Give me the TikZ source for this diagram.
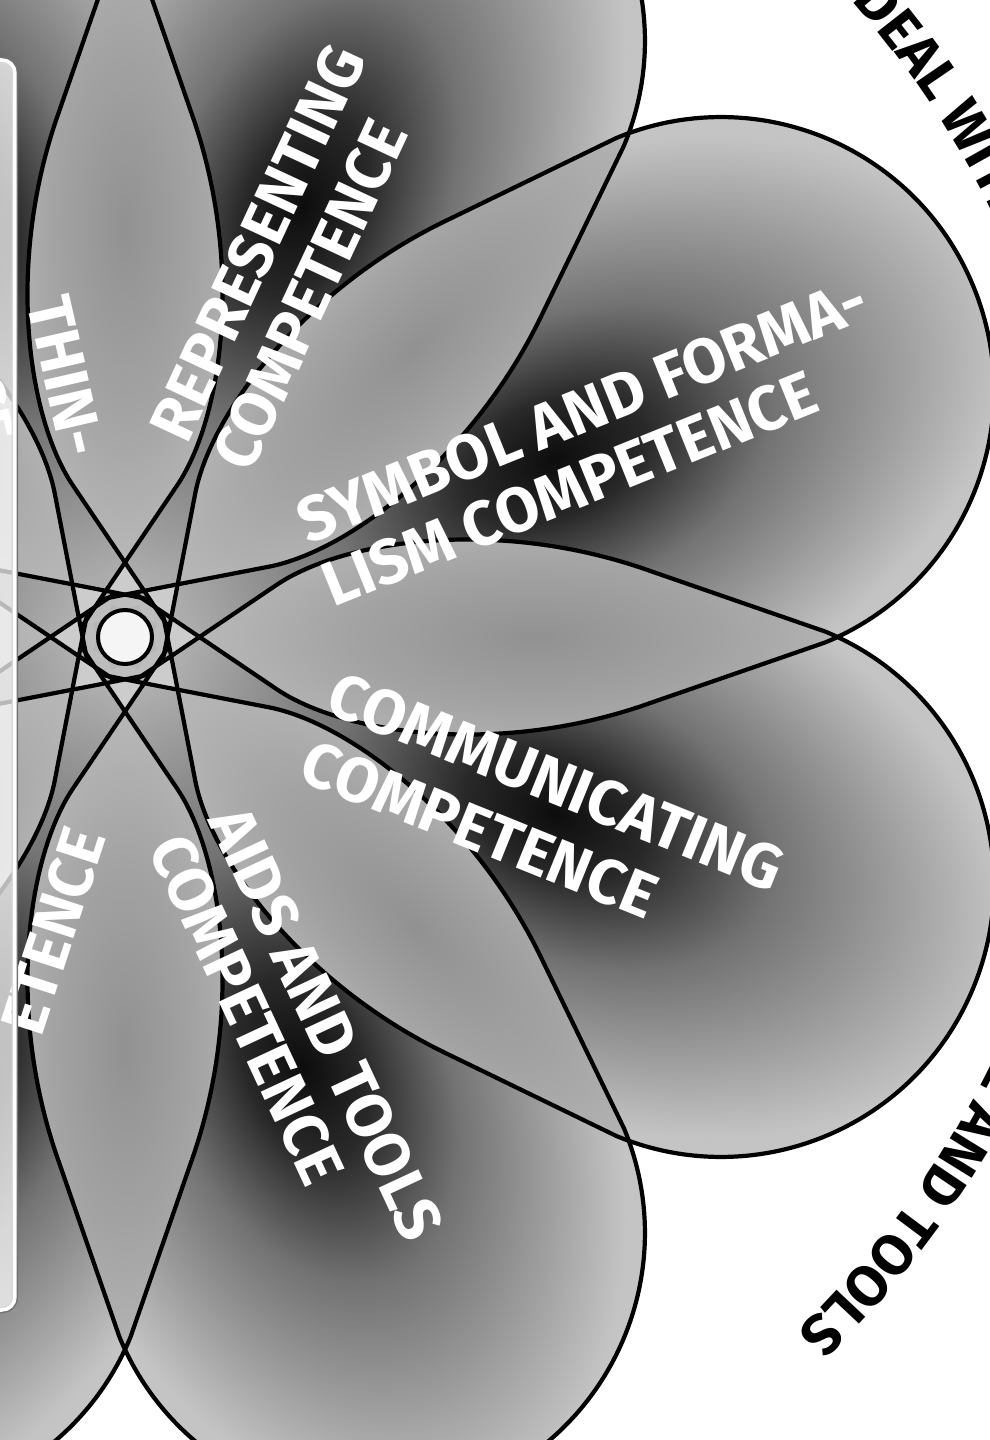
\documentclass[tikz,border=0pt]{standalone}
\usepackage{fontspec}
\newfontfamily\labfont{Fira Sans}
\usetikzlibrary{decorations.text}
\definecolor{pc0}{gray}{0.05}
\definecolor{pc1}{gray}{0.16}
\definecolor{pc2}{gray}{0.45}
\definecolor{pc3}{gray}{0.62}
\definecolor{pc4}{gray}{0.77}
\definecolor{lc0}{gray}{0.57}
\definecolor{lc1}{gray}{0.64}
\definecolor{lc2}{gray}{0.75}
\definecolor{starbg}{gray}{0.80}
\pgfdeclareradialshading{petalshade}{\pgfpoint{0bp}{0bp}}{color(0bp)=(pc0); color(5bp)=(pc1); color(12bp)=(pc2); color(19bp)=(pc3); color(25bp)=(pc4); color(50bp)=(pc4)}
\pgfdeclareradialshading{lensshade}{\pgfpoint{0bp}{0bp}}{color(0bp)=(lc0); color(12bp)=(lc1); color(25bp)=(lc2); color(50bp)=(lc2)}
\def\petalpath{(25,37.5) -- (50,0) -- (120,-106) .. controls (165,-174) and (300,-254) .. (460,-262) -- (645,-273) .. controls (796,-273) and (918,-151) .. (918,0) .. controls (918,151) and (796,273) .. (645,273) -- (460,262) .. controls (300,254) and (165,174) .. (120,106) -- (50,0) -- (25,-37.5)}
\newcommand\labfnt{\labfont\bfseries\fontsize{63}{63}\selectfont}
\newcommand\ringfnt{\labfont\bfseries\fontsize{57}{57}\selectfont}
\tikzset{
  lab/.style={text=white, font=\labfnt, inner sep=0pt},
  petalline/.style={line width=4.2pt, black, line join=round},
}
\begin{document}
\begin{tikzpicture}[x=1pt,y=1pt]
\fill[white] (-125,-803) rectangle (864,637);
\fill[starbg] (0,0) circle (90);
% petal fills
\foreach \a in {22.5,67.5,...,337.5}{
  \begin{scope}[transform canvas={rotate=\a}]
    \begin{scope}
      \clip \petalpath -- cycle;
      \shade[shading=petalshade] (-10,-290) rectangle (940,290);
    \end{scope}
  \end{scope}
}
% lens fills
\foreach \a in {0,45,...,315}{
  \begin{scope}[transform canvas={rotate=\a}]
    \clip[rotate=-22.5] \petalpath -- cycle;
    \clip[rotate=22.5] \petalpath -- cycle;
    \shade[shading=lensshade] (20,-150) rectangle (800,150);
  \end{scope}
}
% outlines
\foreach \a in {22.5,67.5,...,337.5}{
  \draw[petalline, rotate=\a] \petalpath;
}
\fill[gray!8] (0,0) circle (27);
\draw[line width=4pt] (0,0) circle (27);
% labels
\node[lab, rotate=-22, anchor=base west] (comm1) at (198.8,-74.3) {COMMUNICATING};
\node[lab, rotate=-22, anchor=base west] (comm2) at (171.5,-142) {COMPETENCE};
\node[lab, rotate=22, anchor=base west] (sym1) at (183,92) {SYMBOL AND FORMA-};
\node[lab, rotate=22, anchor=base west] (sym2) at (208,29) {LISM COMPETENCE};
\node[lab, rotate=65, anchor=base west] (rep1) at (62,191.4) {REPRESENTING};
\node[lab, rotate=65, anchor=base west] (rep2) at (125,162) {COMPETENCE};
\node[lab, rotate=-65, anchor=base west] (aids1) at (82.5,-183.3) {AIDS AND TOOLS};
\node[lab, rotate=-65, anchor=base west] (aids2) at (22.6,-211) {COMPETENCE};
\node[lab, rotate=-77, anchor=base east] (think1) at (-62,177) {THIN-};
\node[lab, rotate=-77, anchor=base east] (think2) at (-152,190) {COMPETENCE};
\node[lab, rotate=72, anchor=base east] (reas2) at (-18,-200) {ETENCE};
% ring text
\path[decorate, decoration={text along path, text={|\ringfnt|DEAL WITH}, text align=left}]
  (41.2:966) arc[start angle=41.2, end angle=0, radius=966];
\path[decorate, decoration={text along path, text={|\ringfnt|LANGUAGE AND TOOLS}, text align=right}]
  (-2:966) arc[start angle=-2, end angle=-46, radius=966];
% left panel
\draw[black!55, line width=6.5pt, rounded corners=13pt] (-170,577) rectangle (-110,-673);
\draw[white, line width=3.5pt, fill=white, fill opacity=0.72, rounded corners=13pt] (-170,577) rectangle (-110,-673);
\pgfresetboundingbox
\useasboundingbox (-125,-803) rectangle (864,637);
\end{tikzpicture}
\end{document}
